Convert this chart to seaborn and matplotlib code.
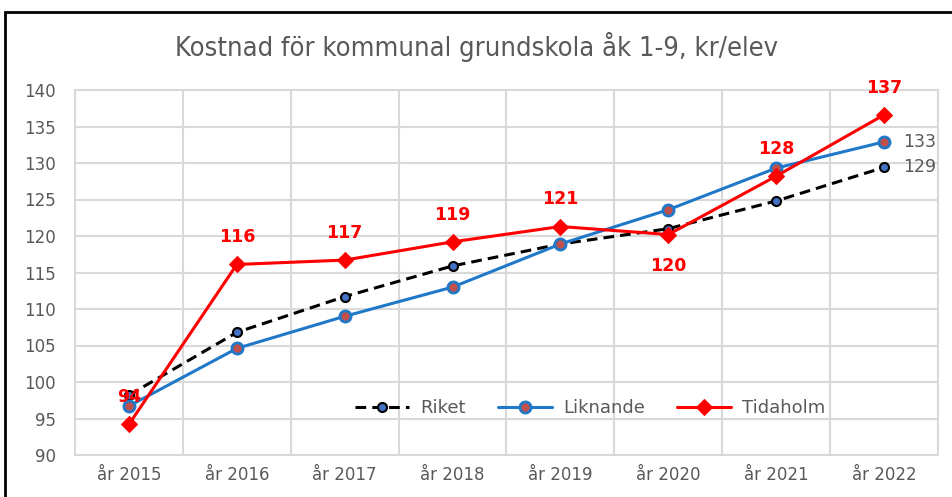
import pandas as pd
import numpy as np
import matplotlib.pyplot as plt
import seaborn as sns
from matplotlib.patches import Rectangle

# Data
years = ["år 2015", "år 2016", "år 2017", "år 2018", "år 2019", "år 2020", "år 2021", "år 2022"]
riket = [98.2, 106.8, 111.7, 115.9, 118.9, 121.0, 124.8, 129.4]
liknande = [96.7, 104.6, 109.0, 113.0, 118.9, 123.6, 129.3, 132.9]
tidaholm = [94.2, 116.1, 116.7, 119.2, 121.3, 120.2, 128.2, 136.6]

df = pd.DataFrame({"year": years, "Riket": riket, "Liknande": liknande, "Tidaholm": tidaholm})

sns.set_theme(style="white")
plt.rcParams['font.family'] = ['DejaVu Sans']

fig = plt.figure(figsize=(9.53, 4.97), dpi=100)
ax = fig.add_axes([75 / 953, 1 - 455 / 497, (938 - 75) / 953, (455 - 90) / 497])

# outer black frame
fig.patches.append(Rectangle((5 / 953, -0.1), 1.2, 1 - 12 / 497 + 0.1, transform=fig.transFigure,
                             fill=False, edgecolor="black", linewidth=2))

sns.lineplot(data=df, x="year", y="Riket", ax=ax, color="black", linestyle=(0, (3.5, 2)),
             linewidth=2.2, marker="o", markersize=6.5, markerfacecolor="#4472C4",
             markeredgecolor="black", markeredgewidth=1.5, label="Riket", sort=False)
sns.lineplot(data=df, x="year", y="Liknande", ax=ax, color="#1F78C8", linewidth=2.2,
             marker="o", markersize=8, markerfacecolor="#C0504D", markeredgecolor="#1F78C8",
             markeredgewidth=2, label="Liknande", sort=False)
sns.lineplot(data=df, x="year", y="Tidaholm", ax=ax, color="#FF0000", linewidth=2.2,
             marker="D", markersize=8, markerfacecolor="#FF0000", markeredgecolor="#FF0000",
             label="Tidaholm", sort=False)

x = np.arange(len(years))
for i, v in enumerate(tidaholm):
    if i == 5:
        ax.annotate(f"{v:.0f}", (x[i], v), xytext=(0, -16), textcoords="offset points",
                    ha="center", va="top", color="#FF0000", fontsize=12.5, fontweight="bold")
    else:
        ax.annotate(f"{v:.0f}", (x[i], v), xytext=(0, 13), textcoords="offset points",
                    ha="center", va="bottom", color="#FF0000", fontsize=12.5, fontweight="bold")
ax.annotate(f"{liknande[-1]:.0f}", (x[-1], liknande[-1]), xytext=(14, 0), textcoords="offset points",
            ha="left", va="center", color="#595959", fontsize=12.5)
ax.annotate(f"{riket[-1]:.0f}", (x[-1], riket[-1]), xytext=(14, 0), textcoords="offset points",
            ha="left", va="center", color="#595959", fontsize=12.5)

ax.set_xlim(-0.5, len(years) - 0.5)
ax.set_ylim(90, 140)
ax.set_yticks(range(90, 141, 5))
ax.set_xticks(x)
ax.set_xticklabels(years)
ax.set_xticks(np.arange(-0.5, len(years), 1), minor=True)
ax.grid(True, which="minor", axis="x", color="#D9D9D9", linewidth=1.5)
ax.grid(True, which="major", axis="y", color="#D9D9D9", linewidth=1.5)
ax.set_axisbelow(True)
ax.tick_params(axis="both", which="both", length=0, labelsize=12, labelcolor="#595959", pad=8)
ax.tick_params(axis="y", pad=14)
for s in ax.spines.values():
    s.set_color("#D9D9D9")
    s.set_linewidth(1.5)
ax.set_xlabel("")
ax.set_ylabel("")

leg = ax.legend(loc="lower center", bbox_to_anchor=(0.597, 0.06), ncol=3, frameon=False,
                fontsize=13, handlelength=3.0, columnspacing=1.8, handletextpad=0.6)
for t in leg.get_texts():
    t.set_color("#595959")

fig.text(0.5, 1 - 47 / 497, "Kostnad för kommunal grundskola åk 1-9, kr/elev", ha="center",
         va="center", fontsize=19.5, color="#595959", family="DejaVu Sans", stretch="condensed")

fig.savefig("out.png", dpi=100)
